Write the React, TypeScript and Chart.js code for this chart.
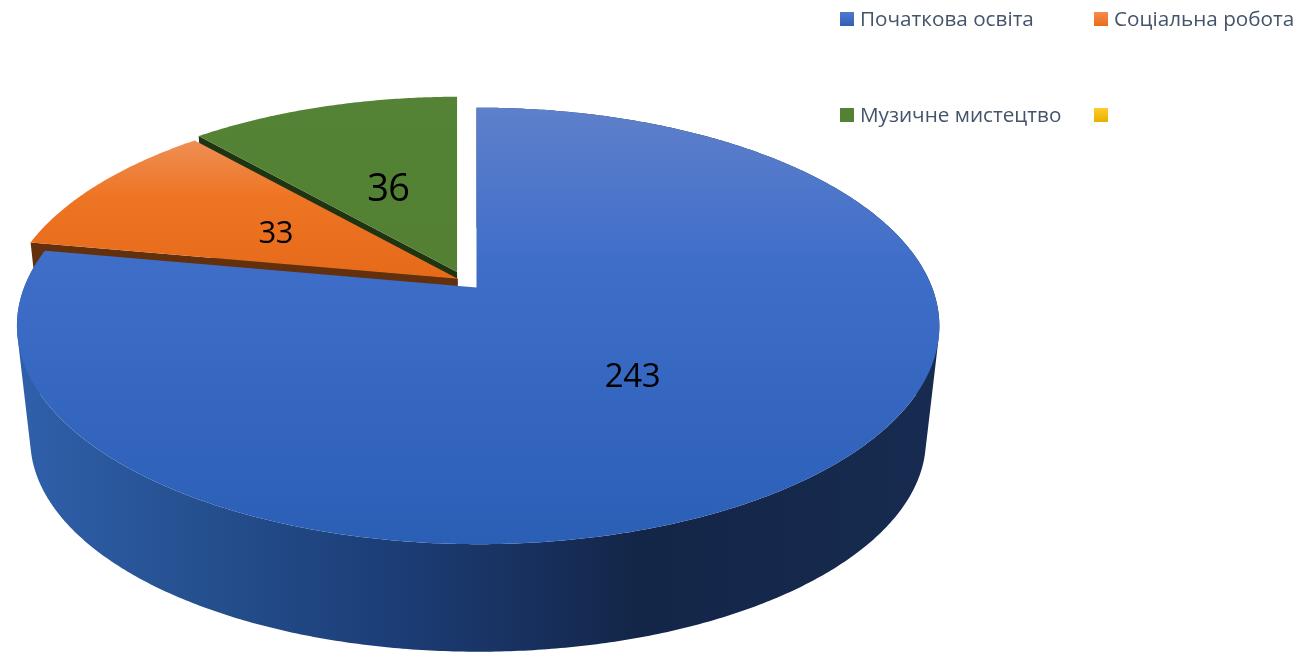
import React, { useEffect, useRef } from "react";
import { Chart, registerables } from "chart.js";

Chart.register(...registerables);

const categories = ["Початкова освіта", "Соціальна робота", "Музичне мистецтво", ""];
const values = [243, 33, 36, 0];
const baseColors = ["#4472c4", "#ed7d31", "#548235", "#ffc000"];
const explode = [0.043, 0.0157, 0.043, 0];
const rimScale = [1, 0.99, 0.97, 1];
const labelRadius = [0.5, 0.48, 0.46, 0];
const labelSizes = [33, 31, 38, 0];
const labelTracking = [-0.4, -0.4, -0.6, 0];
const topStops = [
  ["#5f80cb", "#3f6ec9", "#2b5fb6"],
  ["#ee8f55", "#ee7524", "#e56a1a"],
  ["#558336", "#548235", "#538033"],
  ["#ffc000", "#ffc000", "#ffc000"],
];
const faceColors = ["#1f3f7d", "#62300c", "#1f3410", "#7f6000"];
const wallStops: [number, string][] = [
  [0, "#2f5fa9"],
  [0.19, "#25508f"],
  [0.41, "#1c3d76"],
  [0.58, "#172e5a"],
  [0.68, "#132648"],
  [1, "#172b50"],
];
const legendSwatches = [
  ["#4f79cd", "#2f60b5"],
  ["#f58c50", "#ea6c1a"],
  ["#548235", "#548235"],
  ["#ffcb2e", "#e8b000"],
];

// Projection of the flat pie into the tilted view.
const VIEW = { cx: 464, cy: 280.5, rx: 454, ry: 211.5, p: 0.176, q: 0.0035, depth: 115, shrink: 0.971, axis: 477 };
const FONT_LEGEND = '20.7px "Open Sans"';
const LEGEND = { x: [840, 1094], y: [19, 115], box: 14, gap: 6 };

type Frame = { x: number; y: number; k: number };

function pt(f: Frame, theta: number, r: number) {
  const u = Math.sin(theta) * r;
  const v = -Math.cos(theta) * r;
  const w = 1 - VIEW.p * v - VIEW.q * u;
  return { x: f.x + (VIEW.rx * f.k * u) / w, y: f.y + (VIEW.ry * f.k * v) / w };
}

const threeD = {
  id: "threeD",
  beforeDatasetDraw() {
    return false;
  },
  afterDatasetsDraw(chart: any) {
    const ctx: CanvasRenderingContext2D = chart.ctx;
    const arcs = chart.getDatasetMeta(0).data;
    const info = arcs.map((a: any, i: number) => {
      const s = a.startAngle + Math.PI / 2;
      const e = a.endAngle + Math.PI / 2;
      const m = (s + e) / 2;
      const ex = explode[i];
      const top: Frame = {
        x: VIEW.cx + ex * VIEW.rx * Math.sin(m),
        y: VIEW.cy - ex * VIEW.ry * Math.cos(m),
        k: 1,
      };
      const low: Frame = {
        x: VIEW.axis + (top.x - VIEW.axis) * VIEW.shrink,
        y: top.y + VIEW.depth,
        k: VIEW.shrink,
      };
      return { s, e, m, top, low, scale: rimScale[i], i };
    });

    const rim = (f: Frame, s: number, e: number, r: number) => {
      const out = [];
      const n = Math.max(2, Math.ceil(Math.abs(e - s) / (Math.PI / 360)));
      for (let j = 0; j <= n; j++) out.push(pt(f, s + ((e - s) * j) / n, r));
      return out;
    };

    const poly = (points: { x: number; y: number }[], fill: any) => {
      ctx.beginPath();
      points.forEach((q, j) => (j ? ctx.lineTo(q.x, q.y) : ctx.moveTo(q.x, q.y)));
      ctx.closePath();
      ctx.fillStyle = fill;
      ctx.fill();
    };

    const topFace = (d: any) => {
      const pts = [pt(d.top, 0, 0), ...rim(d.top, d.s, d.e, d.scale)];
      const ys = pts.map((q) => q.y);
      const g = ctx.createLinearGradient(0, Math.min(...ys), 0, Math.max(...ys));
      const st = topStops[d.i];
      g.addColorStop(0, st[0]);
      g.addColorStop(d.i === 0 ? 0.35 : 0.4, st[1]);
      g.addColorStop(1, st[2]);
      poly(pts, g);
    };

    const cutFace = (d: any, angle: number) => {
      const a = pt(d.top, 0, 0);
      const b = pt(d.top, angle, d.scale);
      const c = pt(d.low, angle, d.scale);
      const e = pt(d.low, 0, 0);
      poly([a, b, c, e], faceColors[d.i]);
    };

    ctx.save();
    const [blue, orange, green] = info;

    // Faces seen through the gaps between the slices.
    cutFace(green, green.s);
    cutFace(orange, orange.s);
    topFace(orange);
    topFace(green);

    // Outer wall of the large slice, filled as one path so no seams show.
    const wg = ctx.createLinearGradient(30, 0, 925, 0);
    wallStops.forEach(([at, c]) => wg.addColorStop(at, c));
    const up = rim(blue.top, blue.s, blue.e, 1);
    const dn = rim(blue.low, blue.s, blue.e, 1);
    ctx.beginPath();
    for (let j = 0; j < up.length - 1; j++) {
      const a = up[j];
      const b = up[j + 1];
      const c = dn[j + 1];
      const e = dn[j];
      const cross = (b.x - a.x) * (e.y - a.y) - (b.y - a.y) * (e.x - a.x);
      const quad = cross >= 0 ? [a, b, c, e] : [e, c, b, a];
      quad.forEach((q, n) => (n ? ctx.lineTo(q.x, q.y) : ctx.moveTo(q.x, q.y)));
      ctx.closePath();
    }
    ctx.fillStyle = wg;
    ctx.fill("nonzero");
    topFace(blue);

    // Value labels.
    ctx.fillStyle = "#000000";
    ctx.textAlign = "center";
    ctx.textBaseline = "middle";
    info.forEach((d: any) => {
      if (!values[d.i]) return;
      const q = pt(d.top, d.m, labelRadius[d.i]);
      ctx.font = `${labelSizes[d.i]}px "Open Sans"`;
      (ctx as any).letterSpacing = `${labelTracking[d.i]}px`;
      ctx.fillText(String(values[d.i]), q.x, q.y + 3);
    });
    (ctx as any).letterSpacing = "0px";

    // Legend, two aligned columns.
    ctx.textAlign = "left";
    ctx.textBaseline = "alphabetic";
    ctx.font = FONT_LEGEND;
    categories.forEach((label, i) => {
      const col = i % 2;
      const row = i < 2 ? 0 : 1;
      const x = LEGEND.x[col];
      const y = LEGEND.y[row];
      const g = ctx.createLinearGradient(0, y - 7, 0, y + 7);
      g.addColorStop(0, legendSwatches[i][0]);
      g.addColorStop(1, legendSwatches[i][1]);
      ctx.fillStyle = g;
      ctx.fillRect(x, y - 7, LEGEND.box, LEGEND.box);
      if (label) {
        ctx.fillStyle = "#44546a";
        ctx.fillText(label, x + LEGEND.box + LEGEND.gap, y + 7);
      }
    });
    ctx.restore();
  },
};

export default function App() {
  const ref = useRef<HTMLCanvasElement>(null);
  useEffect(() => {
    const chart = new Chart(ref.current as HTMLCanvasElement, {
      type: "pie",
      data: {
        labels: categories,
        datasets: [{ data: values, backgroundColor: baseColors, borderWidth: 0 }],
      },
      options: {
        responsive: false,
        animation: false,
        events: [],
        plugins: { legend: { display: false }, tooltip: { enabled: false } },
      },
      plugins: [threeD],
    } as any);
    return () => chart.destroy();
  }, []);
  return (
    <div style={{ position: "absolute", left: 0, top: 0, width: 1302, height: 652, background: "#fff" }}>
      <canvas ref={ref} width={1302} height={652} style={{ display: "block" }} />
    </div>
  );
}
